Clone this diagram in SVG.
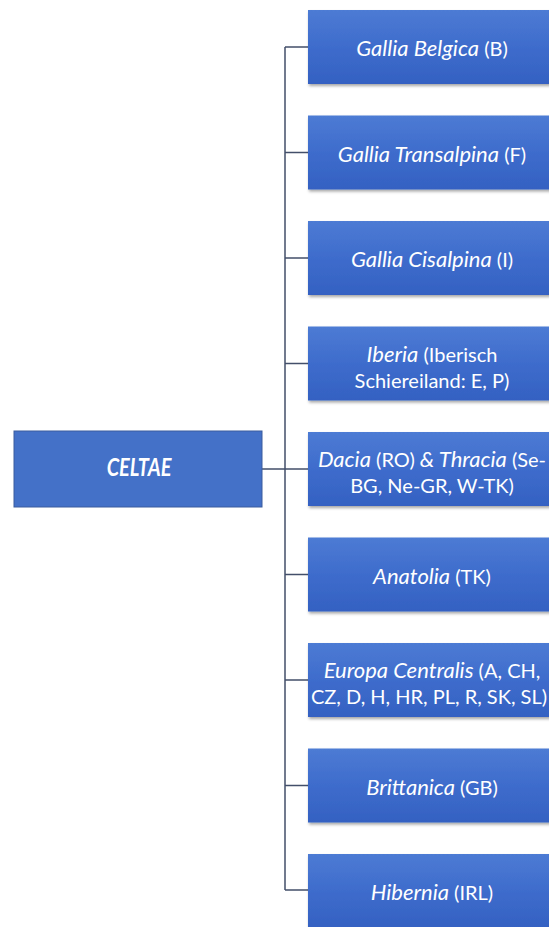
<svg xmlns="http://www.w3.org/2000/svg" width="549" height="927" viewBox="0 0 549 927">
<defs>
<linearGradient id="g" x1="0" y1="0" x2="0" y2="1">
<stop offset="0" stop-color="#4d7bd4"/>
<stop offset="0.5" stop-color="#3e6ccc"/>
<stop offset="1" stop-color="#3461c2"/>
</linearGradient>
<filter id="sh" x="-10%" y="-10%" width="130%" height="140%">
<feDropShadow dx="1" dy="2" stdDeviation="1.5" flood-color="#000" flood-opacity="0.35"/>
</filter>
</defs>
<style>
.box{fill:url(#g);filter:url(#sh)}
.root{fill:#4471c8;stroke:#3a5c9e;stroke-width:1}
text{font-family:Lato,"Open Sans","Liberation Sans",sans-serif;font-size:20px;fill:#fff;text-anchor:middle}
.i{font-style:italic;font-size:22px}
.c{fill:none;stroke:#434f6a;stroke-width:1.5}
</style>
<rect width="549" height="927" fill="#fff"/>
<g id="connectors">
<path class="c" d="M262 469H285M285 47V890M285 47H308M285 152.5H308M285 258H308M285 363.5H308M285 469H308M285 574.5H308M285 680H308M285 785.5H308M285 890H308"/>
</g>
<g id="celtae">
<rect class="root" x="14" y="431" width="248" height="76"/>
<text transform="translate(139 476) scale(1 1.2)" x="0" y="0" style="font-style:italic;font-weight:bold;font-size:20px">CELTAE</text>
</g>
<g id="n1"><rect class="box" x="308" y="10" width="248" height="74"/><text x="432" y="56"><tspan class="i">Gallia Belgica</tspan> (B)</text></g>
<g id="n2"><rect class="box" x="308" y="115.5" width="248" height="74"/><text x="432" y="161.5"><tspan class="i">Gallia Transalpina</tspan> (F)</text></g>
<g id="n3"><rect class="box" x="308" y="221" width="248" height="74"/><text x="432" y="267"><tspan class="i">Gallia Cisalpina</tspan> (I)</text></g>
<g id="n4"><rect class="box" x="308" y="326.5" width="248" height="74"/><text x="432" y="362"><tspan class="i">Iberia</tspan> (Iberisch</text><text x="432" y="387.5">Schiereiland: E, P)</text></g>
<g id="n5"><rect class="box" x="308" y="432" width="248" height="74"/><text x="432" y="467"><tspan class="i">Dacia</tspan> (RO) <tspan class="i">&amp; Thracia</tspan> (Se-</text><text x="432" y="493">BG, Ne-GR, W-TK)</text></g>
<g id="n6"><rect class="box" x="308" y="537.5" width="248" height="74"/><text x="432" y="583.5"><tspan class="i">Anatolia</tspan> (TK)</text></g>
<g id="n7"><rect class="box" x="308" y="643" width="248" height="74"/><text x="432" y="678"><tspan class="i">Europa Centralis</tspan> (A, CH,</text><text x="429" y="704">CZ, D, H, HR, PL, R, SK, SL)</text></g>
<g id="n8"><rect class="box" x="308" y="748.5" width="248" height="74"/><text x="432" y="794.5"><tspan class="i">Brittanica</tspan> (GB)</text></g>
<g id="n9"><rect class="box" x="308" y="854" width="248" height="74"/><text x="432" y="900"><tspan class="i">Hibernia</tspan> (IRL)</text></g>
</svg>
